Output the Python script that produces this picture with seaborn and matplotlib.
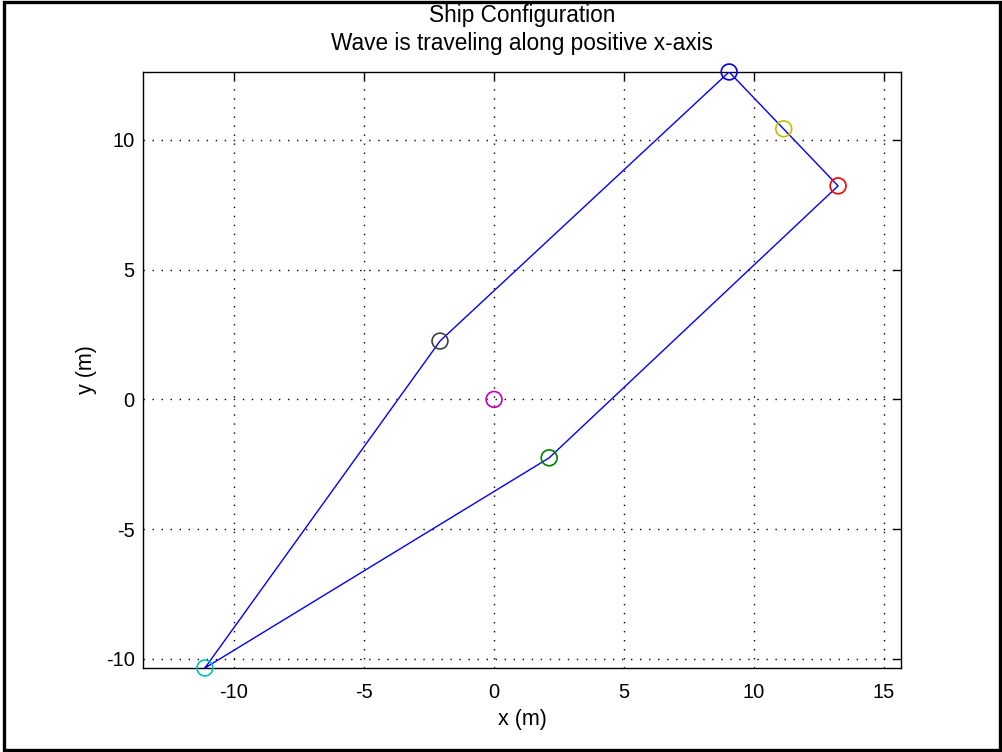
import matplotlib
matplotlib.use("Agg")
import matplotlib.pyplot as plt
import seaborn as sns
import pandas as pd
from matplotlib.patches import Rectangle

# Hull outline vertices (closed polygon), metres
hull_x = [-11.12, -2.08, 9.04, 13.23, 2.12, -11.12]
hull_y = [-10.35, 2.25, 12.62, 8.23, -2.25, -10.35]

# Reference points on the ship
point_names = ["stern", "port", "bow", "bow mid", "starboard bow", "starboard", "centre"]
point_x = [-11.12, -2.08, 9.04, 11.14, 13.23, 2.12, 0.0]
point_y = [-10.35, 2.25, 12.62, 10.43, 8.23, -2.25, 0.0]
point_colors = ["#00bfbf", "#404040", "#0000ff", "#bfbf00", "#ff0000", "#008000", "#bf00bf"]

x_ticks = [-10, -5, 0, 5, 10, 15]
y_ticks = [-10, -5, 0, 5, 10]

sns.set_style("white")
plt.rcParams["font.family"] = ["Liberation Sans", "DejaVu Sans"]
plt.rcParams["axes.unicode_minus"] = False
plt.rcParams["text.color"] = "black"
plt.rcParams["axes.labelcolor"] = "black"

fig = plt.figure(figsize=(10.03, 7.52), dpi=100)
ax = fig.add_axes([0.1426, 0.1117, 0.7557, 0.7926])

hull = pd.DataFrame({"x": hull_x, "y": hull_y, "order": range(len(hull_x))})
sns.lineplot(data=hull, x="x", y="y", sort=False, estimator=None, color="#0000ff",
             linewidth=1.0, ax=ax, zorder=3)

pts = pd.DataFrame({"x": point_x, "y": point_y, "name": point_names})
sns.scatterplot(data=pts, x="x", y="y", hue="name", palette=point_colors, s=130,
                legend=False, ax=ax, zorder=4, linewidth=1.2, marker="o")
# open circles: edge colors from the palette
coll = ax.collections[-1]
coll.set_facecolor("none")
coll.set_edgecolors(point_colors)
coll.set_clip_on(False)

ax.set_xlim(-13.5, 15.65)
ax.set_ylim(-10.35, 12.62)
ax.set_xticks(x_ticks)
ax.set_yticks(y_ticks)
ax.grid(True, linestyle=(0, (1, 5.5)), color="black", linewidth=1.0)
ax.tick_params(direction="in", length=5.5, width=1, top=True, right=True,
               labelsize=14.5, colors="black")
ax.tick_params(axis="x", pad=11)
ax.tick_params(axis="y", pad=6)
for s in ax.spines.values():
    s.set_color("black")
    s.set_linewidth(1.0)
    s.set_visible(True)

ax.set_xlabel("x (m)", fontsize=15.5, labelpad=5)
ax.set_ylabel("y (m)", fontsize=15.5, labelpad=6)
ax.set_title("Ship Configuration\nWave is traveling along positive x-axis",
             fontsize=16.3, pad=16, linespacing=1.25, color="black")

fig.patches.append(Rectangle((0.0035, 0.002), 0.9935, 0.996, transform=fig.transFigure,
                             fill=False, edgecolor="black", linewidth=2.4))

fig.savefig("out.png", dpi=100)
